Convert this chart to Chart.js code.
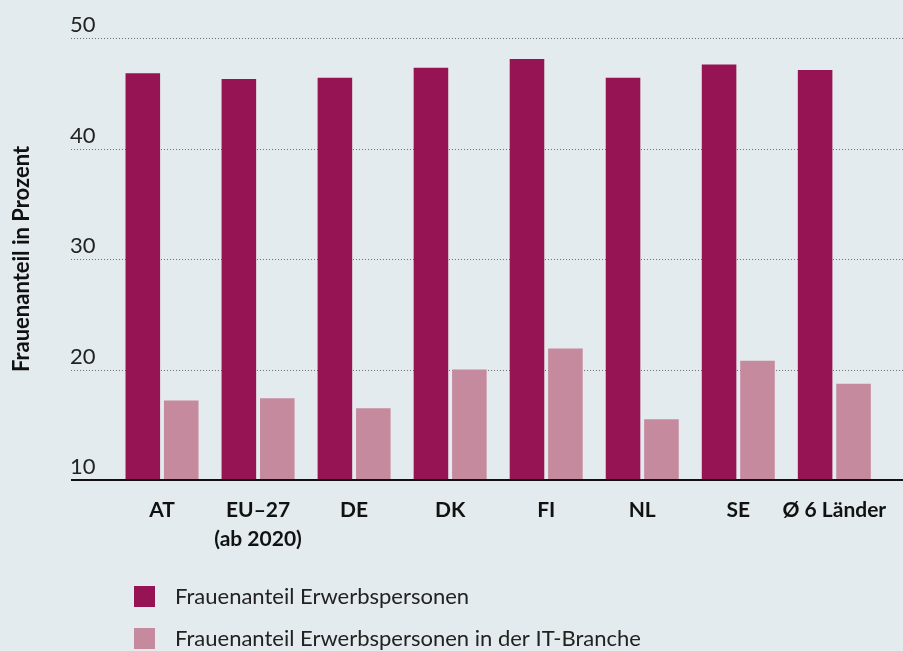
<!DOCTYPE html>
<html>
<head>
<meta charset="utf-8">
<script src="https://cdn.jsdelivr.net/npm/chart.js@4"></script>
<style>
  html, body { margin: 0; padding: 0; background: #e3ebee; }
  #wrap { width: 903px; height: 651px; }
</style>
</head>
<body>
<div id="wrap"><canvas id="frauenChart" width="903" height="651"></canvas></div>
<script>
const categories = ['AT', ['EU–27', '(ab 2020)'], 'DE', 'DK', 'FI', 'NL', 'SE', 'Ø 6 Länder'];
const erwerbspersonen = [46.8, 46.3, 46.4, 47.3, 48.1, 46.4, 47.6, 47.1];
const itBranche = [17.2, 17.4, 16.5, 20.0, 21.9, 15.5, 20.8, 18.7];
const seriesLabels = ['Frauenanteil Erwerbspersonen', 'Frauenanteil Erwerbspersonen in der IT-Branche'];
const seriesColors = ['#961453', '#c68a9f'];
const yTicks = [10, 20, 30, 40, 50];

const FONT = 'Lato, "Open Sans", sans-serif';

// dotted grid + tick labels above each line, baseline solid
const gridPlugin = {
    id: 'gridPlugin',
    beforeDatasetsDraw(chart) {
        const ctx = chart.ctx;
        const y = chart.scales.y;
        ctx.save();
        yTicks.forEach(v => {
            const py = Math.round(y.getPixelForValue(v)) + 0.5;
            if (v !== yTicks[0]) {
                ctx.strokeStyle = '#6f6f6f';
                ctx.lineWidth = 1;
                ctx.setLineDash([1, 2]);
                ctx.beginPath();
                ctx.moveTo(71, py);
                ctx.lineTo(chart.width, py);
                ctx.stroke();
            }
            ctx.setLineDash([]);
            ctx.fillStyle = '#222';
            ctx.font = '22px ' + FONT;
            ctx.textAlign = 'left';
            ctx.textBaseline = 'alphabetic';
            ctx.fillText(String(v), 70, py - 7);
        });
        ctx.restore();
    },
    afterDatasetsDraw(chart) {
        const ctx = chart.ctx;
        const py = chart.scales.y.getPixelForValue(yTicks[0]);
        ctx.save();
        ctx.strokeStyle = '#111';
        ctx.lineWidth = 2;
        ctx.beginPath();
        ctx.moveTo(71, py);
        ctx.lineTo(chart.width, py);
        ctx.stroke();
        ctx.restore();
    },
    afterDraw(chart) {
        const ctx = chart.ctx;
        ctx.save();
        chart.data.datasets.forEach((ds, i) => {
            const top = 586 + i * 42;
            ctx.fillStyle = ds.backgroundColor;
            ctx.fillRect(134, top, 21, 21);
            ctx.fillStyle = '#222';
            ctx.font = '22px ' + FONT;
            ctx.textAlign = 'left';
            ctx.textBaseline = 'middle';
            ctx.fillText(ds.label, 175, top + 11);
        });
        ctx.restore();
    }
};

const ctx = document.getElementById('frauenChart').getContext('2d');
const chart = new Chart(ctx, {
    type: 'bar',
    data: {
        labels: categories,
        datasets: [
            { label: seriesLabels[0], data: erwerbspersonen, backgroundColor: seriesColors[0] },
            { label: seriesLabels[1], data: itBranche, backgroundColor: seriesColors[1] }
        ]
    },
    options: {
        responsive: false,
        animation: false,
        layout: { padding: { top: 38, right: 13, bottom: 0, left: 0 } },
        categoryPercentage: 0.8,
        barPercentage: 0.9,
        plugins: {
            legend: { display: false },
            tooltip: { enabled: false }
        },
        scales: {
            x: {
                grid: { display: false, drawTicks: false },
                border: { display: false },
                ticks: {
                    color: '#111',
                    font: { family: FONT, size: 21, weight: 'bold', lineHeight: 1.38 },
                    padding: 16,
                    maxRotation: 0,
                    autoSkip: false
                },
                afterFit(scale) { scale.height = 171; }
            },
            y: {
                min: 10,
                max: 50,
                grid: { display: false, drawTicks: false },
                border: { display: false },
                ticks: { display: false, stepSize: 10 },
                title: {
                    display: true,
                    text: 'Frauenanteil in Prozent',
                    color: '#111',
                    font: { family: FONT, size: 22, weight: 'bold' },
                    padding: { top: 9, bottom: 0 }
                },
                afterFit(scale) { scale.width = 114; }
            }
        }
    },
    plugins: [gridPlugin]
});
</script>
</body>
</html>
